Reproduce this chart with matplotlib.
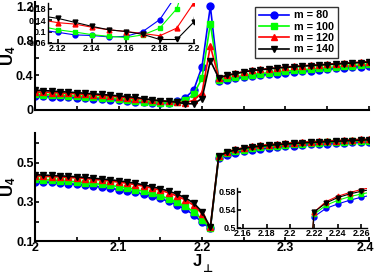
import matplotlib
matplotlib.use('Agg')
import matplotlib.pyplot as plt
import matplotlib.transforms as mtransforms
import numpy as np

plt.rcParams['font.family'] = ['Liberation Sans', 'DejaVu Sans']
plt.rcParams['font.weight'] = 'bold'
plt.rcParams['mathtext.fontset'] = 'custom'
plt.rcParams['mathtext.bf'] = 'Liberation Sans:bold'

# J_perp grid, 2.00 .. 2.40
J = np.round(np.arange(2.0, 2.4001, 0.01), 2)
labels = ['m = 80', 'm = 100', 'm = 120', 'm = 140']

# top panel: U4
u_top_80 = [0.160, 0.157, 0.154, 0.150, 0.146, 0.142, 0.137, 0.132, 0.126, 0.120,
            0.113, 0.105, 0.097, 0.088, 0.086, 0.081, 0.083, 0.100, 0.142, 0.230,
            0.500, 1.200, 0.340, 0.350, 0.365, 0.380, 0.392, 0.403, 0.413, 0.422,
            0.431, 0.440, 0.448, 0.456, 0.464, 0.472, 0.480, 0.488, 0.496, 0.503, 0.510]
u_top_100 = [0.180, 0.177, 0.173, 0.169, 0.165, 0.160, 0.155, 0.149, 0.143, 0.136,
             0.129, 0.118, 0.106, 0.098, 0.089, 0.083, 0.079, 0.088, 0.112, 0.180,
             0.370, 1.000, 0.350, 0.365, 0.382, 0.398, 0.410, 0.421, 0.431, 0.440,
             0.449, 0.457, 0.465, 0.473, 0.481, 0.489, 0.497, 0.505, 0.513, 0.520, 0.527]
u_top_120 = [0.210, 0.206, 0.202, 0.197, 0.192, 0.187, 0.181, 0.175, 0.168, 0.160,
             0.151, 0.141, 0.131, 0.126, 0.115, 0.106, 0.100, 0.093, 0.085, 0.112,
             0.200, 0.740, 0.372, 0.402, 0.423, 0.443, 0.458, 0.469, 0.479, 0.489,
             0.497, 0.505, 0.512, 0.518, 0.524, 0.530, 0.536, 0.542, 0.548, 0.554, 0.560]
u_top_140 = [0.230, 0.225, 0.219, 0.213, 0.207, 0.201, 0.194, 0.187, 0.180, 0.172,
             0.164, 0.155, 0.146, 0.132, 0.118, 0.106, 0.100, 0.090, 0.072, 0.072,
             0.133, 0.570, 0.370, 0.400, 0.420, 0.440, 0.455, 0.465, 0.475, 0.485,
             0.493, 0.500, 0.507, 0.513, 0.519, 0.525, 0.531, 0.537, 0.543, 0.549, 0.555]

# bottom panel: U4
u_bot_80 = [0.405, 0.403, 0.400, 0.397, 0.394, 0.390, 0.386, 0.381, 0.376, 0.370,
            0.364, 0.357, 0.349, 0.340, 0.330, 0.318, 0.303, 0.285, 0.262, 0.235,
            0.195, 0.165, 0.525, 0.543, 0.553, 0.561, 0.568, 0.573, 0.578, 0.582,
            0.586, 0.589, 0.592, 0.595, 0.597, 0.599, 0.601, 0.603, 0.605, 0.607, 0.609]
u_bot_100 = [0.416, 0.414, 0.412, 0.409, 0.406, 0.403, 0.399, 0.395, 0.390, 0.385,
             0.379, 0.372, 0.364, 0.355, 0.344, 0.332, 0.317, 0.299, 0.277, 0.250,
             0.210, 0.165, 0.530, 0.550, 0.561, 0.569, 0.575, 0.580, 0.585, 0.589,
             0.592, 0.595, 0.598, 0.601, 0.603, 0.605, 0.607, 0.609, 0.611, 0.613, 0.615]
u_bot_120 = [0.434, 0.432, 0.430, 0.428, 0.426, 0.423, 0.420, 0.416, 0.412, 0.407,
             0.402, 0.396, 0.389, 0.381, 0.371, 0.360, 0.347, 0.331, 0.311, 0.283,
             0.240, 0.170, 0.535, 0.558, 0.570, 0.578, 0.585, 0.590, 0.594, 0.598,
             0.601, 0.604, 0.607, 0.609, 0.611, 0.613, 0.615, 0.617, 0.619, 0.621, 0.623]
u_bot_140 = [0.440, 0.438, 0.436, 0.434, 0.432, 0.429, 0.426, 0.422, 0.418, 0.414,
             0.409, 0.403, 0.396, 0.388, 0.379, 0.368, 0.356, 0.341, 0.321, 0.295,
             0.250, 0.170, 0.535, 0.555, 0.567, 0.575, 0.581, 0.586, 0.590, 0.594,
             0.597, 0.600, 0.603, 0.605, 0.607, 0.609, 0.611, 0.613, 0.615, 0.617, 0.619]

colors = ['#0000ff', '#00ff00', '#ff0000', '#000000']
markers = ['o', 's', '^', 'v']


def style(ax, fs):
    for s in ['top', 'right']:
        ax.spines[s].set_visible(False)
    for s in ['left', 'bottom']:
        ax.spines[s].set_linewidth(1.5)
    ax.tick_params(direction='in', width=1.2, length=3, labelsize=fs, pad=1)


def draw(ax, series, ms, lw):
    for u, c, m, lab in zip(series, colors, markers, labels):
        ax.plot(J, u, color=c, marker=m, ms=ms, lw=lw, mec=c, mfc=c, label=lab)


fig = plt.figure(figsize=(3.74, 2.75), dpi=100)

# top main
ax1 = fig.add_axes([0.0936, 0.6, 0.893, 0.393])
draw(ax1, [u_top_80, u_top_100, u_top_120, u_top_140], 5, 1.2)
ax1.set_xlim(2.0, 2.4)
ax1.set_ylim(0, 1.25)
ax1.set_xticks(np.arange(2.0, 2.401, 0.05))
ax1.set_xticklabels([])
ax1.set_yticks([0, 0.2, 0.4, 0.6, 0.8, 1.0, 1.2])
ax1.set_yticklabels(['0', '', '0.4', '', '0.8', '', '1.2'])
style(ax1, 9)
ax1.set_ylabel(r'$\mathbf{U_4}$', fontsize=12)
ax1.yaxis.set_label_coords(-0.05, 0.5)
# legend box: lower-left corner given in axes fractions
leg = ax1.legend(loc=(0.66, 0.485), fontsize=7.8,
                 handlelength=2.8, borderpad=0.3, labelspacing=0.12,
                 handletextpad=0.5, frameon=True, fancybox=False)
leg.get_frame().set_edgecolor('black')
leg.get_frame().set_linewidth(1.0)
for t in leg.get_texts():
    t.set_fontweight('bold')

# top inset
ax1i = fig.add_axes([0.128, 0.844, 0.39, 0.145])
ax1i.patch.set_alpha(0)
draw(ax1i, [u_top_80, u_top_100, u_top_120, u_top_140], 3.5, 0.8)
ax1i.set_xlim(2.114, 2.2)
ax1i.set_ylim(0.06, 0.2)
ax1i.set_xticks([2.12, 2.14, 2.16, 2.18, 2.2])
ax1i.set_xticklabels(['2.12', '2.14', '2.16', '2.18', '2.2'])
ax1i.set_yticks([0.06, 0.1, 0.14, 0.18])
ax1i.set_yticklabels(['0.06', '0.1', '0.14', '0.18'])
style(ax1i, 6.5)
for s in ['left', 'bottom']:
    ax1i.spines[s].set_linewidth(1.0)

# bottom main
ax2 = fig.add_axes([0.0936, 0.1236, 0.893, 0.393])
draw(ax2, [u_bot_80, u_bot_100, u_bot_120, u_bot_140], 5, 1.2)
ax2.set_xlim(2.0, 2.4)
ax2.set_ylim(0.1, 0.654)
ax2.set_xticks(np.arange(2.0, 2.401, 0.05))
ax2.set_xticklabels(['2', '', '2.1', '', '2.2', '', '2.3', '', '2.4'])
ax2.set_yticks([0.1, 0.2, 0.3, 0.4, 0.5, 0.6])
ax2.set_yticklabels(['0.1', '', '0.3', '', '0.5', ''])
style(ax2, 9)
ax2.set_ylabel(r'$\mathbf{U_4}$', fontsize=12)
ax2.yaxis.set_label_coords(-0.05, 0.5)
# nudge the last x label so it stays inside the figure
last = ax2.get_xticklabels()[-1]
last.set_transform(last.get_transform() +
                   mtransforms.ScaledTranslation(-4 / 100, 0, fig.dpi_scale_trans))

# x label J with perpendicular subscript
fig.text(0.527, 0.032, 'J', fontsize=12, fontweight='bold', ha='center', va='baseline')
fig.text(0.541, 0.012, '\u22a5', fontsize=8, fontweight='bold', family='DejaVu Sans',
         ha='left', va='baseline')

# bottom inset
ax2i = fig.add_axes([0.634, 0.171, 0.348, 0.145])
ax2i.patch.set_alpha(0)
draw(ax2i, [u_bot_80, u_bot_100, u_bot_120, u_bot_140], 3.5, 0.8)
ax2i.set_xlim(2.155, 2.265)
ax2i.set_ylim(0.5, 0.588)
ax2i.set_xticks([2.16, 2.18, 2.2, 2.22, 2.24, 2.26])
ax2i.set_xticklabels(['2.16', '2.18', '2.2', '2.22', '2.24', '2.26'])
ax2i.set_yticks([0.5, 0.54, 0.58])
ax2i.set_yticklabels(['0.5', '0.54', '0.58'])
style(ax2i, 6.5)
for s in ['left', 'bottom']:
    ax2i.spines[s].set_linewidth(1.0)

fig.savefig('out.png', dpi=100)
